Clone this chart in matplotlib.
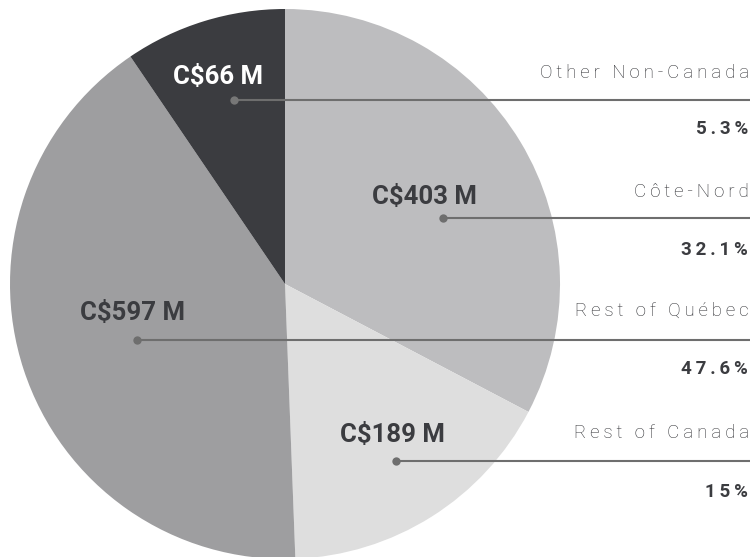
import matplotlib
matplotlib.use("Agg")
from matplotlib import pyplot as plt

# data
regions = ["Côte-Nord", "Rest of Canada", "Rest of Québec", "Other Non-Canada"]
amounts = [403, 189, 597, 66]          # C$ M, as labelled
percent_labels = ["32.1%", "15%", "47.6%", "5.3%"]
# slice sizes as drawn in the original (they don't follow the labelled amounts)
drawn_share = [32.7, 16.7, 41.1, 9.5]
colors = ["#bdbdbf", "#dedede", "#9e9ea0", "#3b3c40"]

W, H = 752, 557
dark = "#3b3c40"
line_c = "#6e6e6e"

# label layout (pixel positions)
dot_pos = [(443, 218), (396, 461), (137, 340), (234, 100)]
amt_pos = [(424, 204), (392, 442), (132, 320), (218, 84)]
name_y = [197, 438, 316, 78]
pct_y = [255, 497, 374, 134]

plt.rcParams['font.family'] = ['Roboto', 'DejaVu Sans']

fig = plt.figure(figsize=(W / 100, H / 100), dpi=100)
ax = fig.add_axes([0, 0, 1, 1])
ax.pie(drawn_share, colors=colors, startangle=-90, counterclock=True,
       center=(285, 284), radius=275, wedgeprops=dict(linewidth=0))
ax.set_xlim(0, W)
ax.set_ylim(H, 0)
ax.set_aspect('equal')
ax.axis('off')


def spaced(s):
    return "\u2009".join(s)


for i in range(4):
    dx, dy = dot_pos[i]
    ax.plot([dx, 750], [dy, dy], color=line_c, lw=1.5, solid_capstyle='butt', zorder=3)
    ax.plot(dx, dy, "o", color="#777777" if i == 3 else line_c, ms=6, mew=0, zorder=4)
    ax.text(amt_pos[i][0], amt_pos[i][1], "C$%d M" % amounts[i], ha="center", va="baseline",
            fontsize=18.5, fontweight="bold", color="white" if i == 3 else dark, zorder=5)
    ax.text(749, name_y[i], spaced(regions[i]), ha="right", va="baseline",
            fontsize=13.5, fontweight="light", color="#2e2f33")
    ax.text(748, pct_y[i], spaced(percent_labels[i]), ha="right", va="baseline",
            fontsize=13.5, fontweight="bold", color=dark)

fig.savefig("out.png", dpi=100)
